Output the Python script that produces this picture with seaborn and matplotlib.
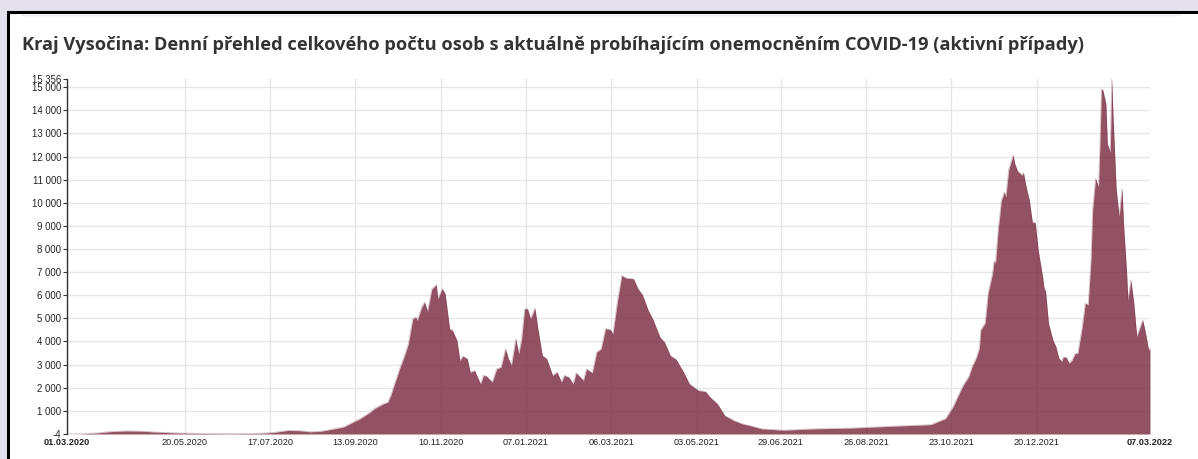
import pandas as pd
import numpy as np
import matplotlib.pyplot as plt
import seaborn as sns
from matplotlib.patches import Rectangle
from matplotlib.lines import Line2D

# days since 01.03.2020 and active cases
day = [0, 10, 20, 30, 40, 50, 60, 75, 90, 110, 130, 140, 150, 158, 165, 172, 180, 188,
       192, 199, 206, 209, 215, 218, 220, 223, 226, 229, 232, 235, 237, 238, 241, 243, 245,
       248, 251, 252, 255, 257, 260, 262, 265, 267, 269, 272, 274, 277, 281, 283, 285, 289,
       292, 295, 298, 300, 302, 305, 307, 309, 311, 313, 315, 318, 320, 323, 326, 330, 333,
       336, 338, 341, 344, 346, 351, 353, 357, 360, 363, 366, 369, 371, 374, 377, 380, 385,
       388, 391, 395, 398, 403, 406, 410, 414, 419, 423, 429, 434, 437, 442, 447, 453, 459,
       464, 472, 487, 508, 532, 560, 587, 597, 602,
       606, 609, 613, 615, 618, 620, 621, 624, 626, 629, 630, 631, 633, 635, 637, 638, 640,
       643, 644, 646, 649, 650, 652, 654, 656, 658, 660, 663, 664, 665, 667, 670, 672, 674,
       676, 677, 679, 681, 683, 685, 687, 690, 692, 694, 696, 697, 699, 701, 702, 703, 704,
       706, 707, 709, 710, 711, 713, 715, 717, 718, 720, 721, 723, 725, 727, 731, 733, 735, 736]
active = [0, 5, 40, 100, 130, 120, 80, 40, 20, 10, 20, 60, 150, 140, 90, 110, 200, 300,
          430, 650, 940, 1100, 1300, 1370, 1660, 2240, 2810, 3320, 3900, 4980, 5050, 4900, 5480, 5700, 5300,
          6280, 6450, 5840, 6280, 6060, 4550, 4470, 4040, 3170, 3360, 3250, 2670, 2740, 2160, 2530, 2500, 2240,
          2810, 2890, 3680, 3250, 2960, 4110, 3460, 4110, 5410, 5410, 4980, 5440, 4550, 3390, 3250, 2530, 2670,
          2240, 2530, 2450, 2160, 2640, 2310, 2810, 2640, 3540, 3680, 4550, 4520, 4330, 5700, 6850, 6740, 6710,
          6280, 6020, 5340, 4980, 4180, 3970, 3390, 3220, 2670, 2160, 1880, 1830, 1590, 1300, 790, 580, 430,
          360, 220, 160, 220, 250, 330, 400, 660, 1150,
          1700, 2100, 2500, 2900, 3300, 3700, 4500, 4800, 6090, 6950, 7470, 7400, 8950, 10100, 10460, 10240, 11450,
          12060, 11710, 11370, 11190, 11300, 10630, 10110, 9170, 9130, 7950, 6800, 6300, 6190, 4780, 4060, 3780, 3280,
          3130, 3320, 3320, 3060, 3180, 3470, 3500, 4650, 5650, 5580, 7660, 9680, 11040, 10680, 12550, 14930, 14860,
          14280, 12550, 12190, 15356, 13560, 10610, 9390, 10610, 9100, 7090, 5790, 6650, 5650, 4210, 4930, 4350, 3630, 3700]

start = pd.Timestamp("2020-03-01")
df = pd.DataFrame({"date": start + pd.to_timedelta(day, unit="D"), "active": active})

x_tick_days = [0, 80, 138, 196, 254, 312, 370, 428, 485, 543, 601, 659, 736]
y_ticks = [-4, 1000, 2000, 3000, 4000, 5000, 6000, 7000, 8000, 9000, 10000,
           11000, 12000, 13000, 14000, 15000, 15356]

title = ("Kraj Vysočina: Denní přehled celkového počtu osob s aktuálně "
         "probíhajícím onemocněním COVID-19 (aktivní případy)")

sns.set_theme(style="white")
plt.rcParams["font.family"] = ["Liberation Sans", "DejaVu Sans"]

W, H = 1198, 459
fig = plt.figure(figsize=(W / 100, H / 100), dpi=100, facecolor="#e4e0ec")

# white panel with black frame
panel = Rectangle((8 / W, -0.2), 1.5, 1 - 12 / H + 0.2, transform=fig.transFigure,
                  facecolor="white", edgecolor="black", linewidth=2.2, zorder=-2)
fig.patches.append(panel)
fig.lines.append(Line2D([22 / W, 1180 / W], [1 - 15 / H] * 2, transform=fig.transFigure,
                        color="#eeeeee", linewidth=1, zorder=-1))

fig.text(22 / W, 1 - 45 / H, title, fontsize=13.15, fontweight="bold", family="Open Sans",
         color="#333333", va="center", ha="left")

ax = fig.add_axes([67 / W, 1 - 434 / H, (1150 - 67) / W, (434 - 79) / H])
ax.set_zorder(1)
ax.set_facecolor("none")

fill_color = "#77273c"
sns.lineplot(data=df, x="date", y="active", ax=ax, color=fill_color, alpha=0.3, linewidth=0.6)
ax.fill_between(df["date"], df["active"], -4, color=fill_color, alpha=0.8, linewidth=0)

ax.set_xlim(start, start + pd.Timedelta(days=736))
ax.set_ylim(-4, 15356)

xt = [start + pd.Timedelta(days=d) for d in x_tick_days]
ax.set_xticks(xt)
ax.set_xticklabels([t.strftime("%d.%m.%Y") for t in xt], fontsize=6.6, color="#222222")
ax.get_xticklabels()[0].set_fontweight("bold")
ax.get_xticklabels()[-1].set_fontweight("bold")
ax.set_yticks(y_ticks)
ax.set_yticklabels([f"{v:,}".replace(",", " ") for v in y_ticks], fontsize=6.9, color="#222222")

ax.tick_params(axis="x", length=0, pad=3)
ax.tick_params(axis="y", length=3, width=0.8, pad=1, color="#333333", left=True)

ax.grid(True, color="#e6e6e6", linewidth=1)
ax.set_axisbelow(True)
ygl = ax.yaxis.get_gridlines()
ygl[0].set_visible(False)
ygl[-1].set_visible(False)
xgl = ax.xaxis.get_gridlines()
xgl[-1].set_visible(False)

for s in ["top", "right", "bottom"]:
    ax.spines[s].set_visible(False)
ax.spines["left"].set_color("#333333")
ax.spines["left"].set_linewidth(1)

ax.set_xlabel("")
ax.set_ylabel("")

fig.savefig("out.png", dpi=100, facecolor=fig.get_facecolor())
